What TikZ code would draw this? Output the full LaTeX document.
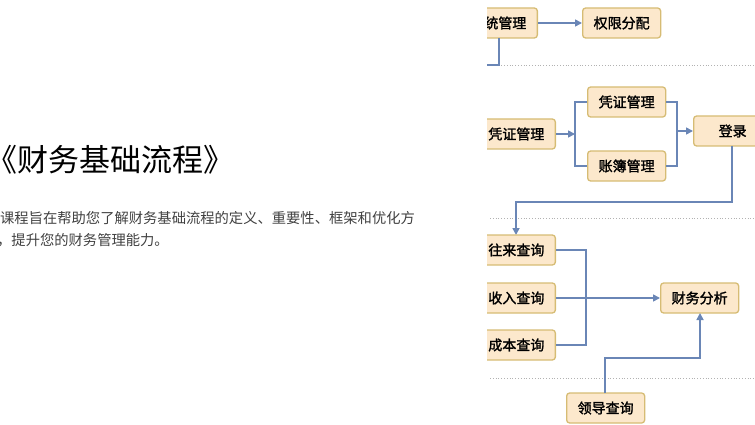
\documentclass[tikz,border=0pt]{standalone}
\usepackage{fontspec}
\usepackage{tikz}
\usetikzlibrary{positioning, arrows.meta}
\newfontfamily\cjk{Noto Sans CJK SC}
\newfontfamily\cjkbold[FakeBold=1.6]{Noto Sans CJK SC}
\definecolor{boxfill}{HTML}{FCE8CC}
\definecolor{boxline}{HTML}{D6BC74}
\definecolor{flow}{HTML}{6A86B6}

\begin{document}
\begin{tikzpicture}[
    x=1pt, y=-1pt,
    stepbox/.style={draw=boxline, fill=boxfill, line width=1.3pt, rounded corners=3pt,
        minimum height=30pt, minimum width=78pt, font=\cjkbold\fontsize{14}{16}\selectfont},
    flowline/.style={draw=flow, line width=1.6pt},
    flowarrow/.style={flowline, -{Triangle[length=7pt, width=7pt]}},
    divider/.style={draw=gray!60, dotted, line width=0.8pt}
]
    \useasboundingbox (0,0) rectangle (755,425);

    % left text
    \node[anchor=west, inner sep=0pt, font=\cjk\fontsize{31}{35}\selectfont] (title) at (-14,160) {《财务基础流程》};
    \node[anchor=west, inner sep=0pt, font=\cjk\fontsize{14.3}{16}\selectfont, text=black!75] (line1) at (0,218)
        {课程旨在帮助您了解财务基础流程的定义、重要性、框架和优化方};
    \node[anchor=west, inner sep=0pt, font=\cjk\fontsize{14.3}{16}\selectfont, text=black!75] (line2) at (-3,240)
        {，提升您的财务管理能力。};

    \begin{scope}
    \clip (487,0) rectangle (755,425);

    % dividers
    \draw[divider] (490,65) -- (755,65);
    \draw[divider] (490,218) -- (755,218);
    \draw[divider] (490,378) -- (755,378);

    % row 1
    \node[stepbox, anchor=east] (sys) at (538,23) {系统管理};
    \node[stepbox, anchor=west] (perm) at (582,23) {权限分配};
    \draw[flowarrow] (sys) -- (perm);
    \draw[flowline] (499,38) -- (499,65) -- (487,65);

    % row 2
    \node[stepbox, anchor=east] (voucher) at (556,134) {凭证管理};
    \node[stepbox, anchor=west] (vouchertop) at (587,102) {凭证管理};
    \node[stepbox, anchor=west] (ledger) at (587,166) {账簿管理};
    \node[stepbox, anchor=west] (login) at (693,131) {登录};
    \coordinate (split) at (575,134);
    \coordinate (join) at (677,131);
    \draw[flowarrow] (voucher) -- (split);
    \draw[flowline] (vouchertop.west) -| (split) |- (ledger.west);
    \draw[flowline] (vouchertop.east) -| (join) |- (ledger.east);
    \draw[flowarrow] (join) -- (login);
    \draw[flowarrow] (732,146) -- (732,202) -- (516,202) -- (516,235);

    % row 3
    \node[stepbox, anchor=east] (trade) at (556,250) {往来查询};
    \node[stepbox, anchor=east] (income) at (556,298) {收入查询};
    \node[stepbox, anchor=east] (cost) at (556,345) {成本查询};
    \node[stepbox, anchor=west] (analysis) at (660,298) {财务分析};
    \node[stepbox, anchor=west] (leader) at (566,408) {领导查询};
    \draw[flowline] (trade.east) -| (586,298) |- (cost.east);
    \draw[flowarrow] (income) -- (analysis);
    \draw[flowarrow] (605,393) |- (700,358) -- (700,313);
    \end{scope}
\end{tikzpicture}
\end{document}
